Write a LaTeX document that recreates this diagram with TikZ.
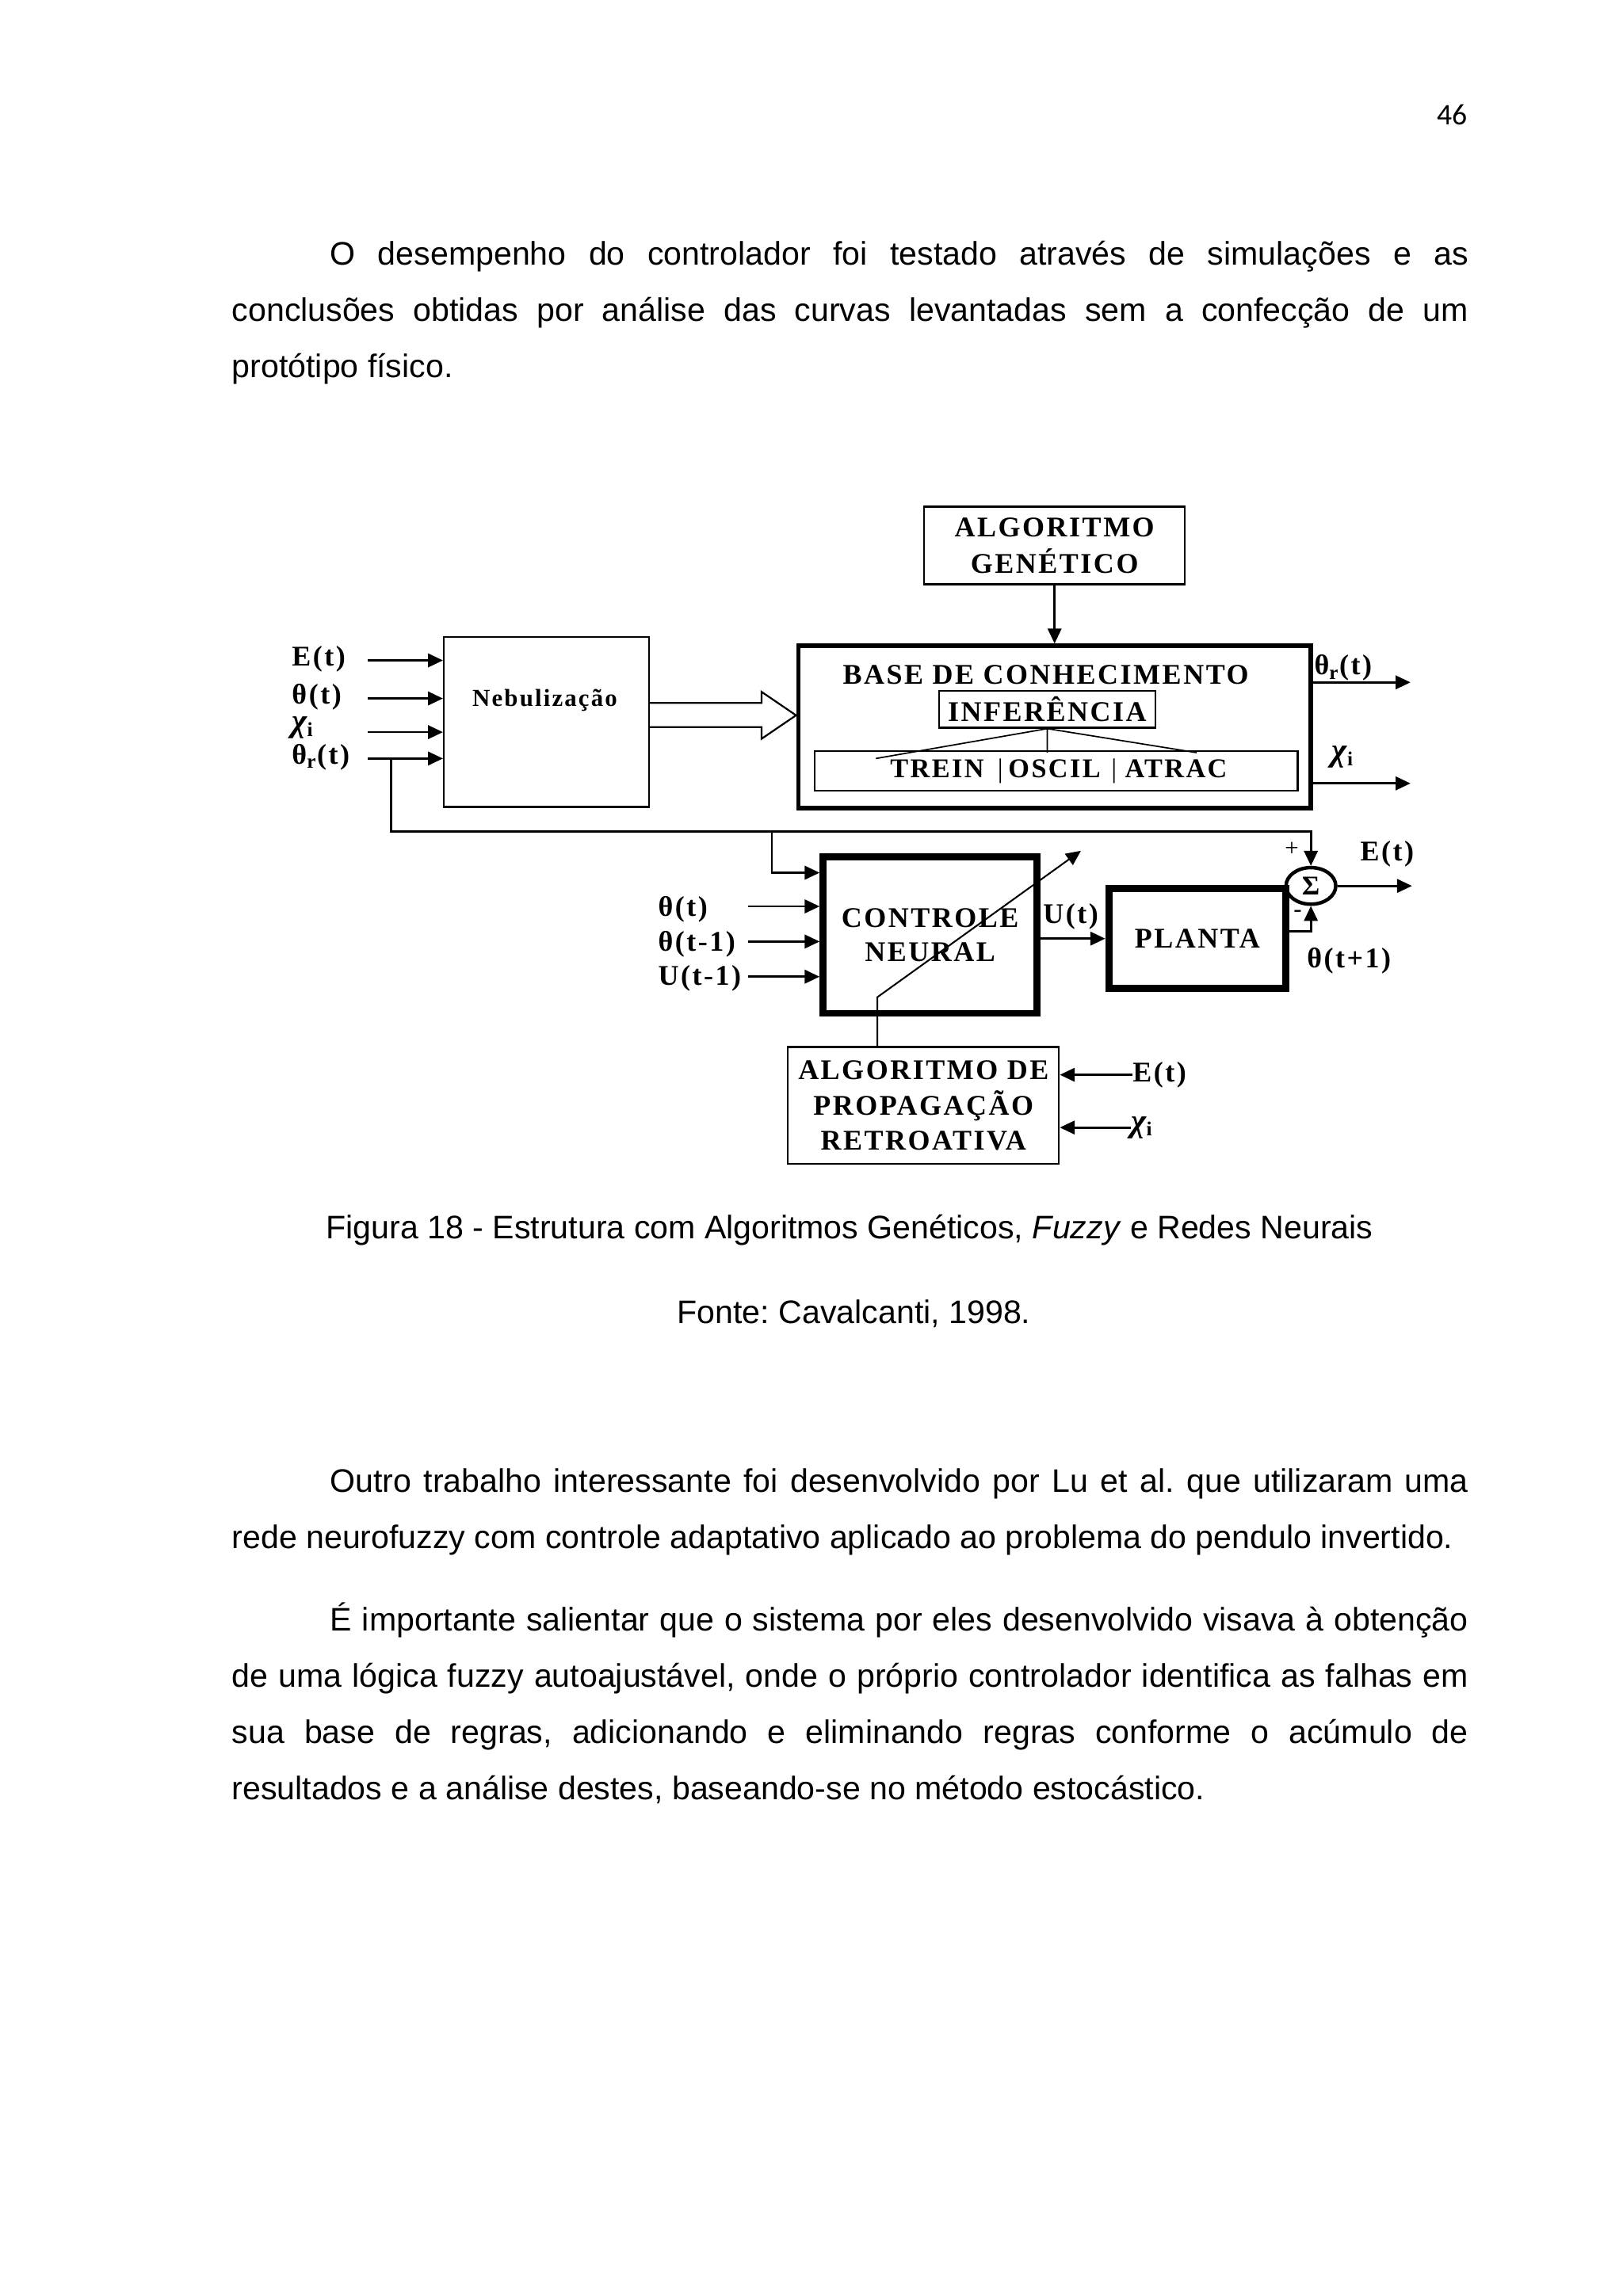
\documentclass[tikz,border=0pt]{standalone}
\usepackage{fontspec}
\setmainfont{Liberation Sans}
\newfontfamily\diagfont[LetterSpace=7]{Liberation Serif}
\newfontfamily\pagefont{Carlito}
\usetikzlibrary{arrows.meta,shapes.geometric,positioning,calc}

\newcommand{\dg}{\diagfont\bfseries\fontsize{10.5}{13.5}\selectfont}
\newcommand{\bodyfont}{\fontsize{12}{20.65}\selectfont\frenchspacing}
\newcommand{\chisym}{{\fontsize{12}{13}\selectfont\itshape χ}\textsubscript{i}}

\begin{document}
\begin{tikzpicture}[
    x=0.18953mm, y=-0.18953mm,
    >={Triangle[length=5.5pt,width=5pt]},
    box/.style={draw,line width=0.65pt,inner sep=0pt,align=center,font=\dg},
    thickbox/.style={box,line width=1.6pt},
    heavybox/.style={box,line width=2.6pt},
    lbl/.style={inner sep=0pt,font=\dg},
    arrow/.style={line width=0.8pt,->},
    wire/.style={line width=0.5pt},
    para/.style={inner sep=0pt,anchor=base west,text width=160mm,align=justify,font=\bodyfont}
]
    \fill[white] (0,0) rectangle (1108,1568);
    \useasboundingbox (0,0) rectangle (1108,1568);

    % page text
    \node[inner sep=0pt,anchor=base east,font=\pagefont\fontsize{11}{13}\selectfont] (pg) at (1002,85) {46};

    \node[para] (p1) at (158,181) {\hspace*{12.7mm}O desempenho do controlador foi testado através de simulações e as\linebreak
        conclusões obtidas por análise das curvas levantadas sem a confecção de um\linebreak
        protótipo físico.};

    \node[inner sep=0pt,anchor=base,font=\bodyfont] (cap) at (580,846) {Figura 18 - Estrutura com Algoritmos Genéticos, \textit{Fuzzy} e Redes Neurais};
    \node[inner sep=0pt,anchor=base,font=\bodyfont] (src) at (583,904) {Fonte: Cavalcanti, 1998.};

    \node[para] (p2) at (158,1019) {\hspace*{12.7mm}Outro trabalho interessante foi desenvolvido por Lu et al. que utilizaram uma\linebreak
        rede neurofuzzy com controle adaptativo aplicado ao problema do pendulo invertido.};

    \node[para] (p3) at (158,1114) {\hspace*{12.7mm}É importante salientar que o sistema por eles desenvolvido visava à obtenção\linebreak
        de uma lógica fuzzy autoajustável, onde o próprio controlador identifica as falhas em\linebreak
        sua base de regras, adicionando e eliminando regras conforme o acúmulo de\linebreak
        resultados e a análise destes, baseando-se no método estocástico.};

    % genetic algorithm + knowledge base
    \node[box,minimum width=33.74mm,minimum height=10.05mm] (ag) at (720,372.5) {ALGORITMO\\GENÉTICO};
    \node[thickbox,minimum width=66.34mm,minimum height=21.04mm] (base) at (720,496.5) {};
    \node[lbl] (basetxt) at (714,461) {BASE DE CONHECIMENTO};
    \node[box,minimum width=28.05mm,minimum height=4.74mm] (inf) at (715,484.5) {INFERÊNCIA};
    \node[box,minimum width=62.54mm,minimum height=5.12mm,font=\diagfont\bfseries\fontsize{10}{12}\selectfont] (toa) at (721,526.5)
        {\hspace*{2pt}TREIN\hspace{5pt}{\mdseries|}\hspace{2pt}OSCIL\hspace{4pt}{\mdseries|}\hspace{3pt}ATRAC};
    \coordinate (tl) at (598,518);
    \coordinate (tr) at (817,514);
    \draw[wire] (inf.south) -- (tl) (inf.south) -- (tr) (inf.south) -- (inf.south |- tr);
    \draw[arrow] (ag.south) -- (base.north);

    % fuzzification
    \node[box,minimum width=26.53mm,minimum height=21.99mm] (neb) at (373,493) {};
    \node[lbl,font=\dg\fontsize{9}{11}\selectfont] (nebtxt) at (372,478) {Nebulização};

    \node[lbl,anchor=west] (inE) at (199,450) {E(t)};
    \node[lbl,anchor=west] (inTh) at (199,476) {θ(t)};
    \node[lbl,anchor=west] (inChi) at (199,497) {\chisym};
    \node[lbl,anchor=west] (inThr) at (199,517) {θ\textsubscript{r}(t)};
    \coordinate (e1) at (251,451);
    \coordinate (e2) at (251,477);
    \coordinate (e3) at (251,500);
    \coordinate (e4) at (251,518);
    \draw[arrow] (e1) -- (e1 -| neb.west);
    \draw[arrow] (e2) -- (e2 -| neb.west);
    \draw[arrow] (e3) -- (e3 -| neb.west);
    \draw[arrow] (e4) -- (e4 -| neb.west);

    % hollow arrow into the knowledge base
    \coordinate (ha1) at (520,480);
    \coordinate (ha2) at (520,472.5);
    \coordinate (ha3) at (520,504.5);
    \coordinate (ha4) at (520,496.5);
    \coordinate (hat) at (530,488.5);
    \draw[line width=0.65pt] (neb.east |- ha1) -- (ha1) -- (ha2) -- (base.west |- hat) -- (ha3) -- (ha4) -- (neb.east |- ha4);

    % outputs of the knowledge base
    \node[lbl] (othr) at (917,456) {θ\textsubscript{r}(t)};
    \node[lbl] (ochi) at (917,517) {\chisym};
    \coordinate (o1) at (963,466);
    \coordinate (o2) at (963,535);
    \draw[arrow] (base.east |- o1) -- (o1);
    \draw[arrow] (base.east |- o2) -- (o2);

    % neural controller, plant and error
    \node[heavybox,minimum width=27.67mm,minimum height=20.28mm,font=\dg\fontsize{10.5}{12.4}\selectfont] (cn) at (635,638.5) {CONTROLE\\NEURAL};
    \node[heavybox,minimum width=22.93mm,minimum height=12.89mm] (planta) at (817.5,641) {PLANTA};
    \node[draw,ellipse,line width=1.3pt,minimum width=6.44mm,minimum height=4.74mm,inner sep=0pt,font=\diagfont\bfseries\fontsize{10}{12}\selectfont] (sum) at (895,605) {Σ};
    \node[inner sep=0pt,font=\diagfont\fontsize{9}{10}\selectfont] (plus) at (882,580) {+};
    \node[inner sep=0pt,font=\diagfont\fontsize{9}{10}\selectfont] (minus) at (886,624) {-};

    \node[lbl,anchor=west] (cTh) at (449,621) {θ(t)};
    \node[lbl,anchor=west] (cTh1) at (449,645) {θ(t-1)};
    \node[lbl,anchor=west] (cU1) at (449,668) {U(t-1)};
    \coordinate (c1) at (511,619);
    \coordinate (c2) at (511,643);
    \coordinate (c3) at (511,667);
    \draw[arrow] (c1) -- (c1 -| cn.west);
    \draw[arrow] (c2) -- (c2 -| cn.west);
    \draw[arrow] (c3) -- (c3 -| cn.west);

    % feedback of the reference
    \coordinate (fbtop) at (893,568);
    \coordinate (br) at (527,568);
    \coordinate (brin) at (540,596);
    \draw[arrow] (e4 -| 267,0) |- (sum.north |- fbtop) -- (sum.north);
    \draw[arrow] (br) |- (cn.west |- brin);

    \node[lbl] (ut) at (731,626) {U(t)};
    \draw[arrow] (cn.east |- planta.west) -- (planta.west);

    \coordinate (eo) at (964,605);
    \draw[arrow] (sum.east) -- (eo);
    \node[lbl] (et) at (947,583) {E(t)};
    \node[lbl] (tp1) at (921,656) {θ(t+1)};
    \coordinate (pm) at (870,636);
    \draw[arrow] (planta.east |- pm) -| (sum.south);

    % backpropagation
    \node[box,minimum width=35.06mm,minimum height=15.16mm,font=\dg\fontsize{10.5}{12.9}\selectfont] (adp) at (630.5,755) {ALGORITMO DE\\PROPAGAÇÃO\\RETROATIVA};
    \node[lbl,anchor=west] (adpE) at (773,734) {E(t)};
    \node[lbl,anchor=west] (adpChi) at (772,770) {\chisym};
    \draw[arrow] (adpE.west) -- (adpE.west -| adp.east);
    \draw[arrow] (adpChi.west) -- (adpChi.west -| adp.east);

    \coordinate (bend) at (599,681);
    \coordinate (tip) at (738,581);
    \draw[arrow,line width=0.6pt] (adp.north -| bend) -- (bend) -- (tip);
\end{tikzpicture}
\end{document}
